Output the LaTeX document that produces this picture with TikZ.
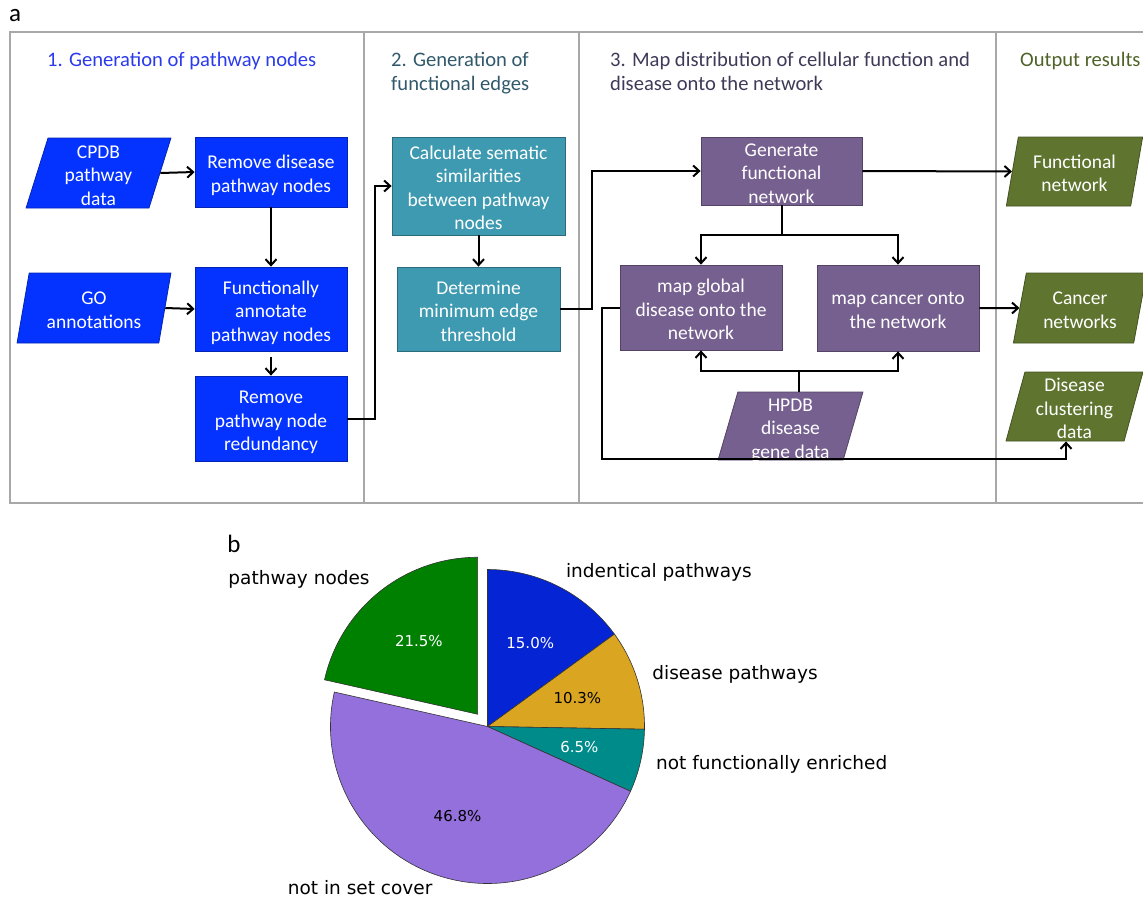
\documentclass[tikz,border=0pt]{standalone}
\usepackage{fontspec}
\setmainfont{Carlito}
\newfontfamily\dejavu{DejaVu Sans}
\usetikzlibrary{shapes.geometric,arrows.meta,calc}
\newcommand{\boxtxt}[1]{\rule{0pt}{22.5pt}#1\rule[-5.5pt]{0pt}{0pt}}
\definecolor{cblue}{HTML}{0433FF}
\definecolor{cteal}{HTML}{3E9AB1}
\definecolor{cpurple}{HTML}{76608F}
\definecolor{cgreen}{HTML}{5F752F}
\definecolor{tblue}{HTML}{2B3BEB}
\definecolor{tteal}{HTML}{31596B}
\definecolor{tpurple}{HTML}{3F3A58}
\definecolor{tgreen}{HTML}{4F6228}
\definecolor{framegray}{HTML}{A8A8A8}
\definecolor{pblue}{HTML}{0524D3}
\definecolor{pyellow}{HTML}{DAA520}
\definecolor{pteal}{HTML}{008B8B}
\definecolor{ppurple}{HTML}{9370DB}
\definecolor{pgreen}{HTML}{008000}
\begin{document}
\begin{tikzpicture}[x=1pt,y=-1pt,
  boxfont/.style={font=\fontsize{19.5}{23.5}\selectfont},
  pbox/.style={rectangle, fill=#1, draw=#1!70!black, line width=0.8pt, text=white, align=center, boxfont, inner xsep=0pt, inner ysep=-8pt},
  para/.style={trapezium, trapezium left angle=76, trapezium right angle=104, trapezium stretches=true,
     fill=#1, draw=#1!70!black, line width=0.8pt, text=white, align=center, boxfont, inner xsep=0pt, inner ysep=-8pt},
  arr/.style={-{Straight Barb[length=6pt,width=11pt,line width=2pt]}, line width=2pt},
  ln/.style={line width=2pt},
  title/.style={font=\fontsize{20.6}{24}\selectfont, align=left, inner sep=0pt},
  pielab/.style={font=\dejavu\fontsize{18.5}{22}\selectfont, inner sep=0pt},
  pct/.style={font=\dejavu\fontsize{15}{18}\selectfont, inner sep=0pt},
  slice/.style={fill=#1, draw=black!80, line width=0.6pt}
]
\useasboundingbox (0,0) rectangle (1143,897);
\clip (0,0) rectangle (1143,897);

% panel labels
\node[font=\fontsize{25}{28}\selectfont, inner sep=0pt] (la) at (15,16) {a};
\node[font=\fontsize{25}{28}\selectfont, inner sep=0pt] (lb) at (234,544) {b};

% frame
\draw[framegray, line width=1.3pt] (10,32) rectangle (1170,503);
\draw[framegray, line width=1.3pt] (364,32) -- (364,503);
\draw[framegray, line width=1.3pt] (579,32) -- (579,503);
\draw[framegray, line width=1.3pt] (996,32) -- (996,503);

% titles (base anchor = baseline of last line)
\node[title, text=tblue, anchor=base west] (t1) at (47,66) {1. Generation of pathway nodes};
\node[title, text=tteal, anchor=base west] (t2) at (391,90) {2. Generation of\\functional edges};
\node[title, text=tpurple, anchor=base west] (t3) at (610,90) {3. Map distribution of cellular function and\\disease onto the network};
\node[title, text=tgreen, anchor=base west] (t4) at (1020,66) {Output results};

% section 1
\node[para=cblue, minimum width=145pt, minimum height=70pt] (cpdb) at (98.5,173) {\boxtxt{CPDB\\pathway\\data}};
\node[pbox=cblue, minimum width=152pt, minimum height=70pt] (rdis) at (271,172) {\boxtxt{Remove disease\\pathway nodes}};
\node[para=cblue, minimum width=154pt, minimum height=70pt] (go) at (94,308) {\boxtxt{GO\\annotations}};
\node[pbox=cblue, minimum width=152pt, minimum height=84pt] (fann) at (271,309) {\boxtxt{Functionally\\annotate\\pathway nodes}};
\node[pbox=cblue, minimum width=152pt, minimum height=85pt] (rred) at (271,418.5) {\boxtxt{Remove\\pathway node\\redundancy}};

% section 2
\node[pbox=cteal, minimum width=173pt, minimum height=98pt] (calc) at (478.5,186) {\boxtxt{Calculate sematic\\similarities\\between pathway\\nodes}};
\node[pbox=cteal, minimum width=163pt, minimum height=84pt] (det) at (478.5,309) {\boxtxt{Determine\\minimum edge\\threshold}};

% section 3
\node[pbox=cpurple, minimum width=161pt, minimum height=68pt] (gen) at (781.5,171) {\boxtxt{Generate\\functional\\network}};
\node[pbox=cpurple, minimum width=162pt, minimum height=85pt] (mglob) at (701,307.5) {\boxtxt{map global\\disease onto the\\network}};
\node[pbox=cpurple, minimum width=162pt, minimum height=86pt] (mcan) at (898,308) {\boxtxt{map cancer onto\\the network}};
\node[para=cpurple, minimum width=145pt, minimum height=68pt] (hpdb) at (790.5,426) {\boxtxt{HPDB\\disease\\gene data}};

% outputs
\node[para=cgreen, minimum width=137pt, minimum height=69pt] (fnet) at (1074.5,171.5) {\boxtxt{Functional\\network}};
\node[para=cgreen, minimum width=134pt, minimum height=70pt] (cnet) at (1080,308) {\boxtxt{Cancer\\networks}};
\node[para=cgreen, minimum width=137pt, minimum height=69pt] (dclu) at (1074.5,406.5) {\boxtxt{Disease\\clustering\\data}};

% connectors
\draw[arr] (cpdb.east) -- (rdis.west);
\draw[arr] (rdis.south) -- (fann.north);
\draw[arr] (go.east) -- (fann.west);
\draw[arr, shorten <=6pt] (fann.south) -- (rred.north);
\draw[arr] (rred.east) -- ++(28,0) |- (calc.west);
\draw[arr] (calc.south) -- (det.north);
\draw[arr] (det.east) -- ++(32,0) |- (gen.west);
\draw[ln] (gen.south) -- ++(0,30) coordinate (gsplit);
\draw[arr] (gsplit) -| (mglob.north);
\draw[arr] (gsplit) -| (mcan.north);
\draw[ln] ([xshift=8.5pt]hpdb.north) -- ++(0,-21) coordinate (hsplit);
\draw[arr] (hsplit) -| (mglob.south);
\draw[arr] (hsplit) -| (mcan.south);
\coordinate (dcin) at ([xshift=-8.5pt]dclu.south);
\draw[arr] (mglob.west) -- ++(-18,0) |- ($(dcin)+(0,18)$) -- (dcin);
\draw[arr] (mcan.east) -- (cnet.west);
\draw[arr] (gen.east) -- (fnet.west);

% pie chart
\begin{scope}[shift={(487.5,726.5)}, y={(0pt,1pt)}]
  \filldraw[slice=pblue] (0,0) -- (36.05:157) arc[start angle=36.05, end angle=90, radius=157] -- cycle;
  \filldraw[slice=pyellow] (0,0) -- (-0.99:157) arc[start angle=-0.99, end angle=36.05, radius=157] -- cycle;
  \filldraw[slice=pteal] (0,0) -- (-24.37:157) arc[start angle=-24.37, end angle=-0.99, radius=157] -- cycle;
  \filldraw[slice=ppurple] (0,0) -- (-192.68:157) arc[start angle=-192.68, end angle=-24.37, radius=157] -- cycle;
  \begin{scope}[shift={(128.66:15.7)}]
    \filldraw[slice=pgreen] (0,0) -- (90:157) arc[start angle=90, end angle=167.32, radius=157] -- cycle;
    \node[pct, text=white] (pg) at (128.66:94.2) {21.5\%};
    \node[pielab, anchor=east] (lg) at (128.66:172.7) {pathway nodes};
  \end{scope}
  \node[pct, text=white] (pb) at (63.03:94.2) {15.0\%};
  \node[pct, text=black] (py) at (17.53:94.2) {10.3\%};
  \node[pct, text=white] (pt) at (-12.68:94.2) {6.5\%};
  \node[pct, text=black] (pp) at (-108.53:94.2) {46.8\%};
  \node[pielab, anchor=west] (lbl) at (63.03:172.7) {indentical pathways};
  \node[pielab, anchor=west] (ly) at (17.53:172.7) {disease pathways};
  \node[pielab, anchor=west] (lt) at (-12.68:172.7) {not functionally enriched};
  \node[pielab, anchor=east, yshift=3pt] (lp) at (-108.53:172.7) {not in set cover};
\end{scope}
\end{tikzpicture}
\end{document}
